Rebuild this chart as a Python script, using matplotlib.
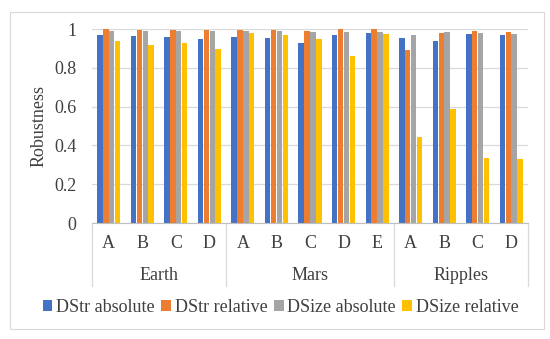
import matplotlib.pyplot as plt
import matplotlib.transforms as mtransforms
from matplotlib.patches import Rectangle
import numpy as np

plt.rcParams['font.family'] = ['Liberation Serif', 'DejaVu Serif']

# data
groups = ['Earth', 'Mars', 'Ripples']
group_sizes = [4, 5, 4]
cats = ['A', 'B', 'C', 'D', 'A', 'B', 'C', 'D', 'E', 'A', 'B', 'C', 'D']
series = ['DStr absolute', 'DStr relative', 'DSize absolute', 'DSize relative']
dstr_abs = [0.971, 0.962, 0.957, 0.950, 0.960, 0.955, 0.928, 0.967, 0.979, 0.953, 0.938, 0.976, 0.971]
dstr_rel = [1.000, 0.995, 0.997, 0.993, 0.997, 0.997, 0.991, 0.998, 0.998, 0.893, 0.981, 0.988, 0.983]
dsize_abs = [0.988, 0.988, 0.990, 0.988, 0.988, 0.990, 0.983, 0.984, 0.986, 0.967, 0.986, 0.979, 0.974]
dsize_rel = [0.940, 0.917, 0.929, 0.897, 0.981, 0.967, 0.947, 0.860, 0.976, 0.441, 0.590, 0.336, 0.329]
values = [dstr_abs, dstr_rel, dsize_abs, dsize_rel]
colors = ['#4472C4', '#ED7D31', '#A5A5A5', '#FFC000']

FS = 13
fig = plt.figure(figsize=(5.5, 3.39), dpi=100)
ax = fig.add_axes([92 / 550, 1 - 223 / 339, 436 / 550, 194 / 339])

x = np.arange(len(cats))
w = 0.175
for i, (name, vals) in enumerate(zip(series, values)):
    ax.bar(x + (i - 1.5) * w, vals, width=w * 0.92, color=colors[i], label=name, zorder=2)

ax.set_xlim(-0.5, len(cats) - 0.5)
ax.set_ylim(0, 1)
ax.set_yticks([0, 0.2, 0.4, 0.6, 0.8, 1.0])
ax.set_yticklabels(['0', '0.2', '0.4', '0.6', '0.8', '1'], fontsize=FS, color='#404040')
ax.tick_params(axis='y', length=0, pad=11)
ax.set_xticks([])
ax.grid(axis='y', color='#D9D9D9', linewidth=0.9, zorder=0)
for s in ['top', 'right', 'left']:
    ax.spines[s].set_visible(False)
ax.spines['bottom'].set_color('#BFBFBF')
ax.set_ylabel('Robustness', fontsize=FS, color='#404040')
ax.yaxis.set_label_coords(-0.103, 0.5)

# two-level category axis
trans = mtransforms.blended_transform_factory(ax.transData, ax.transAxes)
for xi, c in zip(x, cats):
    ax.text(xi, -0.108, c, transform=trans, ha='center', va='center', fontsize=FS, color='#404040')
edges = np.concatenate([[0], np.cumsum(group_sizes)]) - 0.5
for g, (a, b) in zip(groups, zip(edges[:-1], edges[1:])):
    ax.text((a + b) / 2, -0.273, g, transform=trans, ha='center', va='center', fontsize=FS, color='#404040')
for e in edges:
    ax.plot([e, e], [0, -0.325], transform=trans, color='#D9D9D9', linewidth=0.9, clip_on=False)

fig.legend(loc='center', bbox_to_anchor=(0.51, 1 - 307 / 339), ncol=4, frameon=False,
           fontsize=FS, handlelength=0.55, handleheight=0.55, handletextpad=0.2,
           columnspacing=0.35, labelcolor='#404040')

fig.patches.append(Rectangle((10 / 550, 1 - 329 / 339), 534 / 550, 317 / 339,
                             transform=fig.transFigure, fill=False,
                             edgecolor='#D9D9D9', linewidth=0.8))

fig.savefig('out.png', dpi=100)
